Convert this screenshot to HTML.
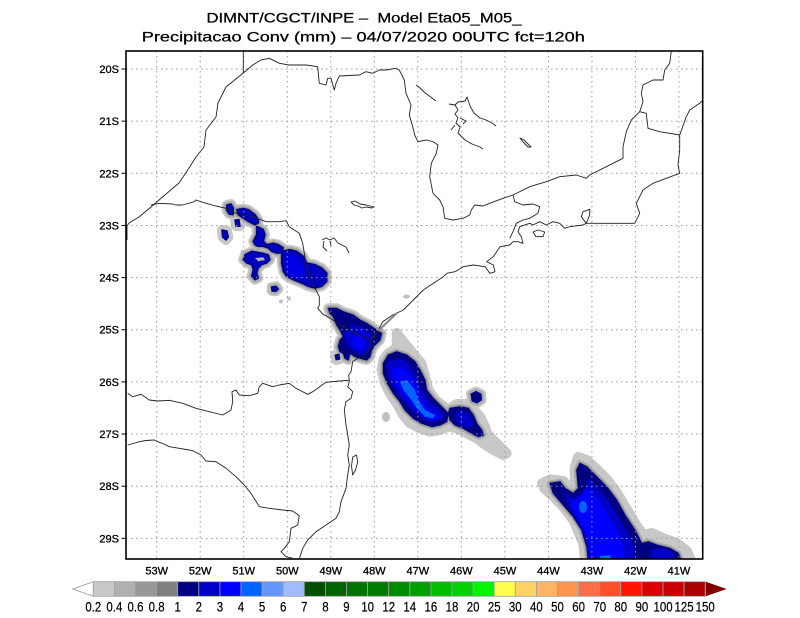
<!DOCTYPE html>
<html><head><meta charset="utf-8"><style>
html,body{margin:0;padding:0;background:#fff;}
svg{display:block;}
text{font-family:"Liberation Sans",sans-serif;fill:#000;}
</style></head><body>
<svg width="800" height="618" viewBox="0 0 800 618" xmlns="http://www.w3.org/2000/svg" xmlns:xlink="http://www.w3.org/1999/xlink">
<defs>
<clipPath id="fr"><rect x="126" y="51" width="576.7" height="508"/></clipPath>
<path id="a1" d="M226.7,205 L231,204 L233.5,208 L233,214.7 L229,214 L226.5,210 Z"/>
<path id="a2" d="M236.7,209.7 L243,208.5 L248.3,209.7 L255,214.7 L258.3,219.7 L258.3,223 L255,224.7 L248.3,221.3 L243.3,218 L238.3,214.7 Z"/>
<path id="a3" d="M235,220 L239,219.7 L240,226.3 L236,226 Z"/>
<path id="a4" d="M256.7,226.3 L263.3,229.7 L265,234.7 L263.3,241.3 L266.7,244.7 L273.3,243.3 L278.3,244.7 L283.3,248 L281.7,253 L276.7,253 L271.7,251.3 L268.3,248 L263.3,246.3 L258.3,246.3 L255,244.7 L253.3,241.3 L256.7,234.7 Z"/>
<path id="a5" d="M222,230 L227,231 L228.3,237 L226,240 L222.5,237 Z"/>
<path id="a6" d="M245,254.7 L251.7,251.3 L261.7,253 L268.3,254.7 L270,259.7 L266.7,263 L261.7,264.7 L258.3,268 L256.7,273 L258.3,278 L255,279.7 L251.7,276.3 L253.3,269.7 L251.7,264.7 L246.7,263 L243.3,259.7 Z"/>
<path id="a7" d="M281.7,251.3 L290,249.7 L296.7,251.3 L303.3,256.3 L306.7,263 L315,264.7 L321.7,268 L326.7,273 L326.7,281.3 L321.7,286.3 L315,288 L308.3,286.3 L301.7,283 L293.3,279.7 L286.7,276.3 L283.3,271.3 L281.7,263 Z"/>
<path id="a8" d="M271.7,287 L276,286.3 L278.3,289 L276,291.3 L272,291 Z"/>
<path id="b1" d="M328.3,308.3 L336.7,308.3 L343.3,311.7 L353.3,315 L360,320 L366.7,323.3 L371.7,326.7 L376.7,330 L381.7,333.3 L380,340 L375,345 L371.7,350 L370,356.7 L366.7,360 L360,358.3 L355,356.7 L350,353.3 L348.3,360 L345,358.3 L343.3,353.3 L340,351.7 L338.3,346.7 L340,340 L343.3,336.7 L340,330 L336.7,325 L333.3,316.7 L330,313.3 Z"/>
<path id="b2" d="M335,355 L339,354 L340,359 L336,360 Z"/>
<path id="c1" d="M388.3,355 L396.7,351.7 L406.7,355 L415,361.7 L420,370 L425,380 L426.7,390 L433.3,398.3 L441.7,406.7 L448.3,413.3 L446.7,421.7 L440,425 L431.7,426.7 L421.7,423.3 L413.3,418.3 L405,410 L400,401.7 L393.3,393.3 L387.3,383.3 L383.3,373.3 L383.3,363.3 Z"/>
<path id="c2" d="M450,408.3 L460,406.7 L468.3,408.3 L473.3,415 L476.7,423.3 L481.7,430 L483.3,435 L478.3,436.7 L471.7,433.3 L463.3,428.3 L455,425 L450,420 L448.3,413.3 Z"/>
<path id="c3" d="M471,394 L476,391.5 L481,394 L481.5,400 L477,403 L472,401 Z"/>
<path id="ch" d="M396.7,333 L404.7,343.3 L413,353.3 L421.3,363.3 L425,376.7 L428.5,390 L435.7,400 L443.3,406 L448.3,410 L456.7,404 L466.7,404 L473.3,409 L480,416.7 L485,426.7 L487,433.3 L493.3,440 L500,446.7 L506.7,453.3 L503.3,455 L493.3,450 L483.3,443.3 L476.7,438.3 L466.7,433.3 L456.7,428.3 L448.3,426.7 L440,430 L430,431.7 L420,428.3 L410,423.3 L403.3,415 L396.7,403.3 L390,393.3 L385,383.3 L381.7,370 L383.3,360 L388.3,353.3 L396.7,348 Z"/>
<path id="d1" d="M550,483.3 L560,481.7 L565,488.3 L573.3,493.3 L578.3,488.3 L576.7,470 L580,463.3 L586.7,466.7 L596.7,476.7 L606.7,486.7 L616.7,500 L625,515 L635,530 L641.7,543.3 L648.3,541.7 L656.7,545 L670,548.3 L678.3,553.3 L681.7,562 L588.3,562 L586.7,546.7 L581.7,530 L573.3,516.7 L563.3,505 L553.3,493.3 Z"/>
<path id="dh" d="M542,483.3 L550,479.3 L563.3,481 L570,488.3 L575,489 L574.7,467.7 L578,457 L586.7,460 L596.7,469 L606.7,479 L616.7,492.3 L626.7,509 L636.7,525.7 L643.3,535 L651.7,533 L663.3,538 L676.7,543 L686.7,550.7 L692,562 L585,562 L583.3,543.3 L573.3,520 L563.3,506.7 L553.3,496.7 L544.3,488.3 Z"/>
</defs>
<rect width="800" height="618" fill="#fff"/>

<!-- title -->
<g stroke="#000" stroke-width="0.25">
<text x="364" y="22.3" font-size="13.5" text-anchor="middle" textLength="315" lengthAdjust="spacingAndGlyphs" style="white-space:pre">DIMNT/CGCT/INPE –  Model Eta05_M05_</text>
<text x="363.3" y="41.5" font-size="13.5" text-anchor="middle" textLength="443" lengthAdjust="spacingAndGlyphs" style="white-space:pre">Precipitacao Conv (mm) – 04/07/2020 00UTC fct=120h</text>
</g>

<g clip-path="url(#fr)">
<!-- precipitation halos -->
<g fill="#c8c8c8" stroke="#c8c8c8" stroke-width="10" stroke-linejoin="round">
<use xlink:href="#a1"/><use xlink:href="#a2"/><use xlink:href="#a3"/><use xlink:href="#a4"/><use xlink:href="#a5"/><use xlink:href="#a6"/><use xlink:href="#a7"/><use xlink:href="#a8"/>
<use xlink:href="#b1"/><use xlink:href="#b2"/><use xlink:href="#ch"/><use xlink:href="#c2"/><use xlink:href="#c3"/><use xlink:href="#dh"/>
</g>
<g fill="#ababab" stroke="#ababab" stroke-width="6" stroke-linejoin="round">
<use xlink:href="#a1"/><use xlink:href="#a2"/><use xlink:href="#a4"/><use xlink:href="#a6"/><use xlink:href="#a7"/><use xlink:href="#a8"/>
<use xlink:href="#b1"/><use xlink:href="#c1"/><use xlink:href="#c2"/><use xlink:href="#c3"/><use xlink:href="#d1"/>
</g>
<g fill="#8c8c8c" stroke="#8c8c8c" stroke-width="3" stroke-linejoin="round">
<use xlink:href="#a2"/><use xlink:href="#a4"/><use xlink:href="#a7"/><use xlink:href="#b1"/><use xlink:href="#c1"/><use xlink:href="#c2"/><use xlink:href="#d1"/>
</g>
<!-- small gray dots -->
<g fill="#c0c0c0">
<ellipse cx="386" cy="417" rx="4" ry="5"/>
<ellipse cx="406.5" cy="296.5" rx="3.5" ry="2"/>
<circle cx="281" cy="301.5" r="2"/><circle cx="289" cy="298.5" r="2"/><circle cx="242.5" cy="252" r="2"/>
<circle cx="269" cy="291" r="2.5"/><circle cx="398" cy="393" r="2.5"/>
</g>

<!-- navy fills -->
<g fill="#0000c0" stroke="#000080" stroke-width="1.5" stroke-linejoin="round">
<use xlink:href="#a1"/><use xlink:href="#a2"/><use xlink:href="#a3"/><use xlink:href="#a4"/><use xlink:href="#a5"/><use xlink:href="#a6"/><use xlink:href="#a7"/><use xlink:href="#a8"/>
</g>
<path d="M255,258 L263.3,257.3 L265,260 L258.3,261.3 Z" fill="#b4b4b4"/>
<path d="M285,258 L293,255 L300,260 L304,268 L303,278 L295,277 L288,273 L285,266 Z" fill="#0000e6"/>
<g fill="#000080" stroke="#000080" stroke-width="1" stroke-linejoin="round">
<use xlink:href="#b1"/><use xlink:href="#b2"/><use xlink:href="#c1"/><use xlink:href="#c2"/><use xlink:href="#c3"/><use xlink:href="#d1"/>
</g>
<!-- cluster B inner -->
<path d="M344,333 L352,325 L360,326 L368,330 L374,336 L372,345 L368,352 L362,355 L355,352 L349,348 L345,342 Z" fill="#0000c8"/>
<path d="M352,338 L358,334 L364,338 L366,346 L360,350 L354,347 Z" fill="#0000ff"/>
<!-- cluster C inner -->
<path d="M388.3,361.7 L398.3,358.3 L406.7,361.7 L413.3,370 L418.3,380 L421.7,390 L428.3,400 L438.3,408.3 L445,415 L441.7,420 L433.3,422.7 L423.3,420 L415,413.3 L406.7,405 L400,396.7 L393.3,386.7 L388.3,376.7 L386,366.7 Z" fill="#0000c8"/>
<path d="M391.7,370 L400,366.7 L408.3,373.3 L415,383.3 L420,396.7 L426.7,406.7 L436.7,413.3 L440,418.3 L431.7,420 L423.3,416.7 L415,408.3 L406.7,398.3 L398.3,388.3 L393.3,380 Z" fill="#0000ff"/>
<path d="M400,381.7 L406.7,380 L415,390 L418.3,400 L425,410 L435,415 L433.3,418.3 L425,416.7 L416.7,408.3 L410,398.3 L403.3,390 Z" fill="#0064ff"/>
<path d="M455,413 L463,411 L470,416 L474,425 L468,428 L460,424 L455,419 Z" fill="#0000c8"/>
<!-- cluster D inner -->
<path d="M563.3,491.7 L573.3,498.3 L583.3,493.3 L589,478.3 L600,490 L610,503.3 L620,520 L630,536.7 L635,550 L633.3,562 L588.3,562 L586.7,543.3 L580,526.7 L570,510 Z" fill="#0000c8"/>
<path d="M570,500 L578.3,500 L586,487 L596.7,496.7 L606.7,513.3 L616.7,530 L623.3,546.7 L623.3,562 L590,562 L588.3,540 L581.7,523.3 L573.3,510 Z" fill="#0000ff"/>
<ellipse cx="583" cy="507" rx="4" ry="6" fill="#0064ff"/>
<path d="M600,556 L610,555 L612,562 L600,562 Z" fill="#0064ff"/>
<path d="M650,550 L662,548 L672,552 L676,562 L652,562 Z" fill="#0000c8"/>

<!-- grid -->
<g stroke="#9a9a9a" stroke-width="1" stroke-dasharray="1.5 3.5">
<line x1="156.7" y1="51" x2="156.7" y2="559"/><line x1="200.2" y1="51" x2="200.2" y2="559"/>
<line x1="243.7" y1="51" x2="243.7" y2="559"/><line x1="287.3" y1="51" x2="287.3" y2="559"/>
<line x1="330.8" y1="51" x2="330.8" y2="559"/><line x1="374.3" y1="51" x2="374.3" y2="559"/>
<line x1="417.8" y1="51" x2="417.8" y2="559"/><line x1="461.3" y1="51" x2="461.3" y2="559"/>
<line x1="504.9" y1="51" x2="504.9" y2="559"/><line x1="548.4" y1="51" x2="548.4" y2="559"/>
<line x1="591.9" y1="51" x2="591.9" y2="559"/><line x1="635.4" y1="51" x2="635.4" y2="559"/>
<line x1="678.9" y1="51" x2="678.9" y2="559"/>
<line x1="126" y1="69" x2="703" y2="69"/><line x1="126" y1="121.15" x2="703" y2="121.15"/>
<line x1="126" y1="173.3" x2="703" y2="173.3"/><line x1="126" y1="225.45" x2="703" y2="225.45"/>
<line x1="126" y1="277.6" x2="703" y2="277.6"/><line x1="126" y1="329.75" x2="703" y2="329.75"/>
<line x1="126" y1="381.9" x2="703" y2="381.9"/><line x1="126" y1="434.05" x2="703" y2="434.05"/>
<line x1="126" y1="486.2" x2="703" y2="486.2"/><line x1="126" y1="538.35" x2="703" y2="538.35"/>
</g>

<!-- borders -->
<g fill="none" stroke="#222" stroke-width="0.9" stroke-linejoin="round">
<path d="M243.3,51 L243.3,73 L226,87 L218,103 L216,117 L206,130 L204,147 L196,157 L189,168 L179,183 L159,200 L151,207 L139,217 L129,223 L127,226 L127,240"/>
<path d="M243.3,73 L252.7,65 L261,60 L269.3,58.3 L279.3,63.3 L289.3,65 L306,65 L317.7,66.7 L319.3,83.3 L326,85 L327.7,78.3 L331,78.3 L334.3,90 L336,83.3 L339.3,76 L359.3,75 L366,71.7 L372.7,73.3 L379.3,70 L386,70 L396,68.3 L399.3,70 L404.3,80 L406,93.3 L411,105 L409.3,115 L412.7,126.7 L414.7,135 L418,141.7 L426.3,140 L433,141.7 L438,145 L436.3,153.3 L431.3,163.3 L429.7,176.7 L433,193.3 L439.7,200 L443,206.7 L444.7,218.3 L453,220 L463,218.3 L469.7,215 L471.3,210 L474.7,205 L483,206 L489.7,203.3 L503,198.3 L513,195"/>
<path d="M513,195 L529.7,186.7 L546.3,181.7 L559.7,176.7 L576.3,175 L586.3,178.3 L589.7,175 L606.3,166.7 L623,158.3 L623,146.7 L626.3,131.7 L631.3,120 L639.7,111.7 L643,101.7 L641.3,93.3 L643,85 L653,80 L663,80 L664.7,70 L669.7,63.3 L671.3,51"/>
<path d="M639.7,111.7 L646.3,113.3 L648,128.3 L659.7,131.7 L679.7,135 L679.7,150 L678,165 L679.7,173.3 L666.3,178.3 L653,183.3 L643,190 L636.3,203.3 L639.7,213.3 L634.7,223.3"/>
<path d="M679.7,135 L686.3,116.7 L689.7,110 L699.7,103.3 L703,100"/>
<path d="M513,195 L514.7,201.7 L523,205 L533,204 L539.7,206.7 L538,213.3 L529.7,218.3 L523,220 L516.3,223.3 L513,231.7 L509.7,238.3"/>
<path d="M299.3,559 L302.7,548.3 L307.7,540 L316,531.7 L326,525 L336,518.3 L339.3,511.7 L341,501.7 L346,488.3 L347.7,475 L349.3,465 L347.7,455 L349.3,445 L347.7,435 L346,425 L344.3,410 L346,401.7 L351,398.3 L352.7,391.7 L347.7,386.7 L349.3,381.7 L348.7,375 L351,371.7 L352.7,361.7 L357.7,358.3 L364.3,356.7 L367.7,351.7 L371,341.7 L374.3,336.7 L379.3,328.3 L382.7,321.7 L392.7,315 L403.3,310 L413.3,300 L423.3,290 L433.3,283.3 L443.3,276.7 L446.7,273.3 L455,271.7 L463.3,266.7 L473.3,265 L485,266.7 L490,273.3 L495,271.7 L493.3,265 L486.7,261.7 L493.3,256.7 L500,246.7 L509.7,245 L513,241.7 L518,241.7 L523,243.3 L521.3,236.7 L518,231.7 L519.7,226.7 L529.7,223.3 L533,225 L539.7,221.7 L546.3,225 L553,221.7 L559.7,223.3 L564.7,228.3 L569.7,226.7 L583,225 L586.3,223.3 L599.7,223.3 L613,223.3 L634.7,223.3"/>
<path d="M586.3,223.3 L581.3,216.7 L583,211.7 L589.7,209.3 L589.7,215 L586.3,223.3"/>
<path d="M533,232 L538,230 L544.7,232 L543,236.5 L536,236.7 Z"/>
<path d="M352.7,457 L356.5,455 L357.7,462 L355.5,470 L352.7,475 L351.5,466 Z"/>
<path d="M151,205 L159.3,203.3 L172.7,204 L176,205 L182.7,205 L194.3,201.7 L196,200 L206,203.3 L216,206 L226,208.3 L236,213.3 L252.7,216.7 L266,221.7 L279.3,221.7 L286,220.7 L289.3,226.7 L299.3,233.3 L302.7,243.3 L306,263.3 L307.7,270 L314.3,286.7 L319.3,296.7 L319.3,305 L317.7,308.3 L323,314.3 L330,318 L340,325 L350,330 L360,336 L370,340 L378,331"/>
<path d="M127.7,393.3 L132.7,396.7 L141,394.3 L149.3,400 L157.7,401 L169.3,400.3 L182.7,403.3 L196,408.3 L209.3,411.7 L222.7,415 L231,410 L232.7,401.7 L232,391.7 L236,390 L239.3,395 L249.3,395.7 L257.7,393.3 L259.3,386.7 L262.7,383.3 L272.7,386.7 L279.3,385 L289.3,383.3 L296,388.3 L299.3,390 L307.7,394.3 L312.7,391.7 L317.7,388.3 L326,382.3 L339.3,381 L349.3,380.3"/>
<path d="M127.7,445 L133,443.5 L139.3,441.7 L146,440.5 L154.3,440 L159.3,442.3 L164,444 L169.3,446.7 L179.3,448.3 L186,449.5 L192.7,450.7 L201,455 L206,461 L216,461.7 L226,468.3 L236,476.7 L244.3,485 L251,493.3 L259.3,506.7 L269.3,508.3 L282.7,510 L292.7,511 L299.3,515.7 L297.7,525 L291,528.3 L289.3,541.7 L284.3,548.3 L281,551.7 L286,556.7 L292.7,558.3"/>
<!-- reservoirs -->
<path d="M351,202 L355,201 L360,204 L366,205 L374,207 L372,208 L366,207 L362,208 L358,206 L354,205 Z"/>
<path d="M322,240 L326,238 L330,240 L334,238 L338,243 L342,245 L346,247 L349,253 M324,241 L323,247 L327,251 M330,241 L331,246"/>
<path d="M416,85 L420,88 L424,92 L428,95 L432,98 L436,101"/>
<path d="M449,104 L455,105 L458,102 L465,101 L467,97 L470,106 L474,113 L480,118 L486,120 L492,123 L496,126 M455,105 L458,110 L455,114 L458,118 L456,123 L460,127 L458,133 L465,140 L472,144 L480,147 L483,149 M460,118 L466,121 L463,124 M455,125 L451,130"/>
<path d="M520,138 L524,140 L527,143 L531,147 L528,147 L524,143 Z"/>
</g>
<line x1="378" y1="331" x2="397" y2="313" stroke="#888" stroke-width="2"/>
</g>

<!-- frame -->
<rect x="126" y="51" width="576.7" height="508" fill="none" stroke="#000" stroke-width="1.6"/>
<g stroke="#000" stroke-width="1">
<line x1="121.5" y1="69" x2="126" y2="69"/><line x1="121.5" y1="121.15" x2="126" y2="121.15"/>
<line x1="121.5" y1="173.3" x2="126" y2="173.3"/><line x1="121.5" y1="225.45" x2="126" y2="225.45"/>
<line x1="121.5" y1="277.6" x2="126" y2="277.6"/><line x1="121.5" y1="329.75" x2="126" y2="329.75"/>
<line x1="121.5" y1="381.9" x2="126" y2="381.9"/><line x1="121.5" y1="434.05" x2="126" y2="434.05"/>
<line x1="121.5" y1="486.2" x2="126" y2="486.2"/><line x1="121.5" y1="538.35" x2="126" y2="538.35"/>
</g>
<g font-size="11" text-anchor="end" stroke="#000" stroke-width="0.3">
<text x="119" y="73">20S</text><text x="119" y="125.1">21S</text><text x="119" y="177.3">22S</text>
<text x="119" y="229.4">23S</text><text x="119" y="281.6">24S</text><text x="119" y="333.7">25S</text>
<text x="119" y="385.9">26S</text><text x="119" y="438">27S</text><text x="119" y="490.2">28S</text>
<text x="119" y="542.3">29S</text>
</g>
<g font-size="11" text-anchor="middle" stroke="#000" stroke-width="0.3">
<text x="156.7" y="574.5">53W</text><text x="200.2" y="574.5">52W</text><text x="243.7" y="574.5">51W</text>
<text x="287.3" y="574.5">50W</text><text x="330.8" y="574.5">49W</text><text x="374.3" y="574.5">48W</text>
<text x="417.8" y="574.5">47W</text><text x="461.3" y="574.5">46W</text><text x="504.9" y="574.5">45W</text>
<text x="548.4" y="574.5">44W</text><text x="591.9" y="574.5">43W</text><text x="635.4" y="574.5">42W</text>
<text x="678.9" y="574.5">41W</text>
</g>

<!-- colorbar -->
<polygon points="72.7,589 93.3,581.7 93.3,596.3" fill="#fff" stroke="#999" stroke-width="0.8"/>
<polygon points="705.7,581.7 726.7,589 705.7,596.3" fill="#800000"/>
<g stroke="#a0a0a0" stroke-width="0.8">
<rect x="93.3" y="581.7" width="21.1" height="14.6" fill="#c8c8c8"/>
<rect x="114.4" y="581.7" width="21.1" height="14.6" fill="#b0b0b0"/>
<rect x="135.5" y="581.7" width="21.1" height="14.6" fill="#989898"/>
<rect x="156.6" y="581.7" width="21.1" height="14.6" fill="#808080"/>
<rect x="177.7" y="581.7" width="21.1" height="14.6" fill="#000082"/>
<rect x="198.8" y="581.7" width="21.1" height="14.6" fill="#0000c8"/>
<rect x="219.9" y="581.7" width="21.1" height="14.6" fill="#0000ff"/>
<rect x="241" y="581.7" width="21.1" height="14.6" fill="#0064ff"/>
<rect x="262.1" y="581.7" width="21.1" height="14.6" fill="#6496ff"/>
<rect x="283.2" y="581.7" width="21.1" height="14.6" fill="#a0bbff"/>
<rect x="304.3" y="581.7" width="21.1" height="14.6" fill="#005000"/>
<rect x="325.4" y="581.7" width="21.1" height="14.6" fill="#006400"/>
<rect x="346.5" y="581.7" width="21.1" height="14.6" fill="#007300"/>
<rect x="367.6" y="581.7" width="21.1" height="14.6" fill="#007d00"/>
<rect x="388.7" y="581.7" width="21.1" height="14.6" fill="#008c00"/>
<rect x="409.8" y="581.7" width="21.1" height="14.6" fill="#00a000"/>
<rect x="430.9" y="581.7" width="21.1" height="14.6" fill="#00be00"/>
<rect x="452" y="581.7" width="21.1" height="14.6" fill="#00d200"/>
<rect x="473.1" y="581.7" width="21.1" height="14.6" fill="#00f500"/>
<rect x="494.2" y="581.7" width="21.1" height="14.6" fill="#ffff50"/>
<rect x="515.3" y="581.7" width="21.1" height="14.6" fill="#ffd264"/>
<rect x="536.4" y="581.7" width="21.1" height="14.6" fill="#ffb464"/>
<rect x="557.5" y="581.7" width="21.1" height="14.6" fill="#ff9650"/>
<rect x="578.6" y="581.7" width="21.1" height="14.6" fill="#ff6e46"/>
<rect x="599.7" y="581.7" width="21.1" height="14.6" fill="#ff5028"/>
<rect x="620.8" y="581.7" width="21.1" height="14.6" fill="#ff1400"/>
<rect x="641.9" y="581.7" width="21.1" height="14.6" fill="#dc0000"/>
<rect x="663" y="581.7" width="21.1" height="14.6" fill="#c80000"/>
<rect x="684.1" y="581.7" width="21.1" height="14.6" fill="#aa0000"/>
</g>
<g font-size="13.5" text-anchor="middle" stroke="#000" stroke-width="0.2">
<text transform="translate(93.3,611.5) scale(0.85,1)">0.2</text>
<text transform="translate(114.4,611.5) scale(0.85,1)">0.4</text>
<text transform="translate(135.5,611.5) scale(0.85,1)">0.6</text>
<text transform="translate(156.6,611.5) scale(0.85,1)">0.8</text>
<text transform="translate(177.7,611.5) scale(0.85,1)">1</text>
<text transform="translate(198.8,611.5) scale(0.85,1)">2</text>
<text transform="translate(219.9,611.5) scale(0.85,1)">3</text>
<text transform="translate(241,611.5) scale(0.85,1)">4</text>
<text transform="translate(262.1,611.5) scale(0.85,1)">5</text>
<text transform="translate(283.2,611.5) scale(0.85,1)">6</text>
<text transform="translate(304.3,611.5) scale(0.85,1)">7</text>
<text transform="translate(325.4,611.5) scale(0.85,1)">8</text>
<text transform="translate(346.5,611.5) scale(0.85,1)">9</text>
<text transform="translate(367.6,611.5) scale(0.85,1)">10</text>
<text transform="translate(388.7,611.5) scale(0.85,1)">12</text>
<text transform="translate(409.8,611.5) scale(0.85,1)">14</text>
<text transform="translate(430.9,611.5) scale(0.85,1)">16</text>
<text transform="translate(452,611.5) scale(0.85,1)">18</text>
<text transform="translate(473.1,611.5) scale(0.85,1)">20</text>
<text transform="translate(494.2,611.5) scale(0.85,1)">25</text>
<text transform="translate(515.3,611.5) scale(0.85,1)">30</text>
<text transform="translate(536.4,611.5) scale(0.85,1)">40</text>
<text transform="translate(557.5,611.5) scale(0.85,1)">50</text>
<text transform="translate(578.6,611.5) scale(0.85,1)">60</text>
<text transform="translate(599.7,611.5) scale(0.85,1)">70</text>
<text transform="translate(620.8,611.5) scale(0.85,1)">80</text>
<text transform="translate(641.9,611.5) scale(0.85,1)">90</text>
<text transform="translate(663,611.5) scale(0.85,1)">100</text>
<text transform="translate(684.1,611.5) scale(0.85,1)">125</text>
<text transform="translate(705.2,611.5) scale(0.85,1)">150</text>
</g>
</svg>
</body></html>
